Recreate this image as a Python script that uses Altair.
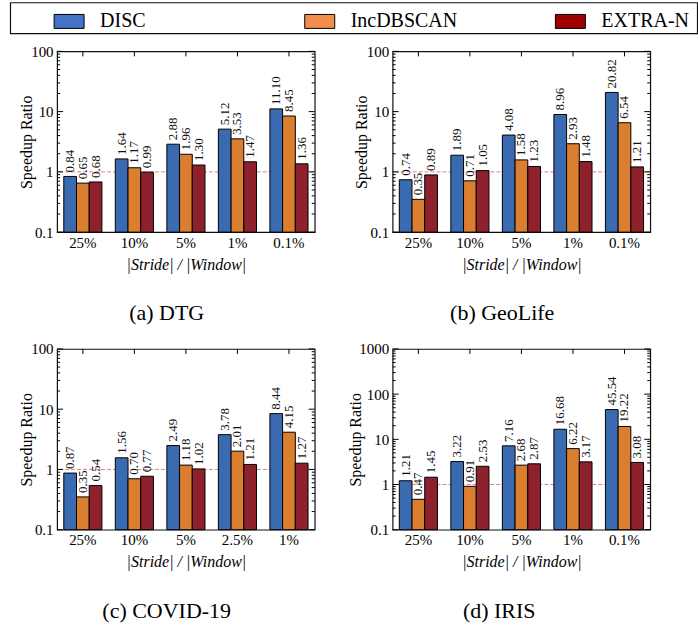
import math
import altair as alt
import pandas as pd

FONT = "Liberation Serif"

series = ["DISC", "IncDBSCAN", "EXTRA-N"]
bar_colors = ["#3a6bb1", "#dc7e30", "#8e212b"]
legend_colors = ["#4472c4", "#f28e4c", "#9e0000"]

cats_dtg = ["25%", "10%", "5%", "1%", "0.1%"]
dtg_disc = [0.84, 1.64, 2.88, 5.12, 11.10]
dtg_inc = [0.65, 1.17, 1.96, 3.53, 8.45]
dtg_extra = [0.68, 0.99, 1.30, 1.47, 1.36]

cats_geo = ["25%", "10%", "5%", "1%", "0.1%"]
geo_disc = [0.74, 1.89, 4.08, 8.96, 20.82]
geo_inc = [0.35, 0.71, 1.58, 2.93, 6.54]
geo_extra = [0.89, 1.05, 1.23, 1.48, 1.21]

cats_cov = ["25%", "10%", "5%", "2.5%", "1%"]
cov_disc = [0.87, 1.56, 2.49, 3.78, 8.44]
cov_inc = [0.35, 0.70, 1.18, 2.01, 4.15]
cov_extra = [0.54, 0.77, 1.02, 1.21, 1.27]

cats_iris = ["25%", "10%", "5%", "1%", "0.1%"]
iris_disc = [1.21, 3.22, 7.16, 16.68, 45.54]
iris_inc = [0.47, 0.91, 2.68, 6.22, 19.22]
iris_extra = [1.45, 2.53, 2.87, 3.17, 3.08]

W, H = 258, 181


def panel(cats, disc, inc, extra, ymax, title, title_x):
    rows = []
    for s, vals in zip(series, [disc, inc, extra]):
        for c, v in zip(cats, vals):
            rows.append({"cat": c, "series": s, "value": v})
    df = pd.DataFrame(rows)
    n_dec = int(round(math.log10(ymax)))
    decades = [10.0 ** k for k in range(-1, n_dec + 1)]
    minors = [m * d for d in decades[:-1] for m in range(2, 10)]

    xscale = alt.Scale(paddingInner=0.26, paddingOuter=0.13)
    xaxis = alt.Axis(title="|Stride| / |Window|", labelAngle=0, ticks=False,
                     domain=False, labelPadding=3, titlePadding=6,
                     labelFont=FONT, labelFontSize=15, labelColor="black",
                     titleFont=FONT, titleFontSize=16, titleColor="black",
                     titleFontWeight="normal", titleFontStyle="italic")
    xenc = alt.X("cat:N", sort=cats, scale=xscale, axis=xaxis)
    yscale = alt.Scale(type="log", domain=[0.1, ymax], nice=False)
    yaxis = alt.Axis(values=decades, format="~g", title="Speedup Ratio",
                     ticks=False, domain=False, grid=False, labelPadding=4,
                     labelFont=FONT, labelFontSize=15, labelColor="black",
                     titleFont=FONT, titleFontSize=16, titleColor="black",
                     titleFontWeight="normal",
                     titleX=title_x, titleY=H / 2, titleAngle=270,
                     titleBaseline="bottom", titleAlign="center")
    yenc = alt.Y("value:Q", scale=yscale, axis=yaxis)
    xoff = alt.XOffset("series:N", sort=series,
                       scale=alt.Scale(paddingInner=0, paddingOuter=0))

    one = alt.Chart(pd.DataFrame({"value": [1.0]})).mark_rule(
        color="#e06060", strokeDash=[4, 2], strokeWidth=0.8
    ).encode(y=yenc)

    bars = alt.Chart(df).mark_bar(stroke="black", strokeWidth=1).encode(
        x=xenc,
        xOffset=xoff,
        y=yenc,
        y2=alt.datum(0.1),
        color=alt.Color("series:N", sort=series,
                        scale=alt.Scale(domain=series, range=bar_colors),
                        legend=None),
    )
    labels = alt.Chart(df).mark_text(
        angle=270, align="left", baseline="middle", dx=4,
        font=FONT, fontSize=13, color="#111"
    ).encode(x=xenc, xOffset=xoff, y=yenc,
             text=alt.Text("value:Q", format=".2f"))

    maj_df = pd.DataFrame({"value": decades})
    min_df = pd.DataFrame({"value": minors})
    lmaj = alt.Chart(maj_df).mark_rule(color="black", strokeWidth=1).encode(
        y=yenc, x=alt.value(0), x2=alt.value(6))
    lmin = alt.Chart(min_df).mark_rule(color="black", strokeWidth=1).encode(
        y=yenc, x=alt.value(0), x2=alt.value(3))
    rmaj = alt.Chart(maj_df).mark_rule(color="black", strokeWidth=1).encode(
        y=yenc, x=alt.value(W), x2=alt.value(W - 6))
    rmin = alt.Chart(min_df).mark_rule(color="black", strokeWidth=1).encode(
        y=yenc, x=alt.value(W), x2=alt.value(W - 3))
    top = alt.Chart(pd.DataFrame({"cat": cats})).mark_rule(
        color="black", strokeWidth=1).encode(
        x=alt.X("cat:N", sort=cats, scale=xscale, axis=xaxis, bandPosition=0.5),
        y=alt.value(0), y2=alt.value(5))

    return alt.layer(one, bars, labels, lmaj, lmin, rmaj, rmin, top).properties(
        width=W, height=H,
        title=alt.TitleParams(title, orient="bottom", anchor="middle",
                              frame="bounds", font=FONT, fontSize=22,
                              fontWeight="normal", color="black", offset=31),
    )


pa = panel(cats_dtg, dtg_disc, dtg_inc, dtg_extra, 100, "(a) DTG", -23)
pb = panel(cats_geo, geo_disc, geo_inc, geo_extra, 100, "(b) GeoLife", -23)
pc = panel(cats_cov, cov_disc, cov_inc, cov_extra, 100, "(c) COVID-19", -23)
pd_ = panel(cats_iris, iris_disc, iris_inc, iris_extra, 1000, "(d) IRIS", -29)

leg_df = pd.DataFrame({"series": series})
leg_x = alt.X("series:N", sort=series,
              scale=alt.Scale(type="point", range=[59, 561], padding=0),
              axis=None)
sw = alt.Chart(leg_df).mark_point(
    shape="M-1.5,-0.7H1.5V0.7H-1.5Z", size=400, filled=True, opacity=1,
    stroke="black", strokeWidth=1
).encode(
    x=leg_x, y=alt.value(19),
    fill=alt.Fill("series:N", sort=series,
                  scale=alt.Scale(domain=series, range=legend_colors),
                  legend=None),
)
tx = alt.Chart(leg_df).mark_text(
    align="left", baseline="middle", dx=31, font=FONT, fontSize=20,
    color="black"
).encode(x=leg_x, y=alt.value(19), text="series:N")
legend = alt.layer(sw, tx).properties(width=688, height=31)

row1 = alt.hconcat(pa, pb, spacing=36).resolve_scale(xOffset="independent")
row2 = alt.hconcat(pc, pd_, spacing=30).resolve_scale(xOffset="independent")
grid = alt.vconcat(row1, row2, spacing=16, center=True).resolve_scale(
    xOffset="independent")

chart = alt.vconcat(legend, grid, spacing=9, center=True).resolve_scale(
    xOffset="independent"
).properties(
    padding={"left": 9, "top": 1, "right": 0, "bottom": 0},
    background="white",
).configure_view(
    stroke="#111", strokeWidth=1.2
)

chart.save("out.html", embed_options={"renderer": "svg", "actions": False})
